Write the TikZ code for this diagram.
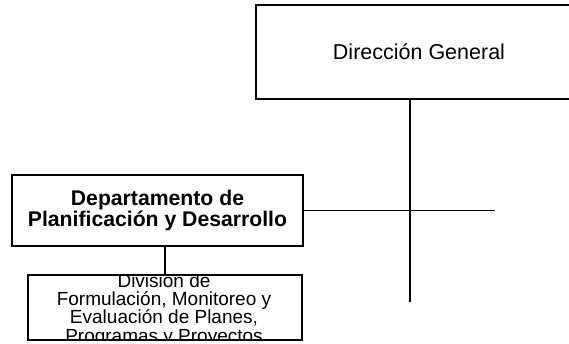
\documentclass[tikz,border=0pt]{standalone}
\usepackage{fontspec}
\setmainfont{Liberation Sans}
\begin{document}
\begin{tikzpicture}[x=1pt,y=-1pt,
  box/.style={draw, line width=1.8pt, rectangle, inner sep=0pt, align=center},
  conn/.style={line width=1.8pt},
  divline/.style={anchor=base, inner sep=0pt, font=\fontsize{19}{18}\selectfont}]
\useasboundingbox (0,0) rectangle (569,344);
\clip (0,0) rectangle (569,344);
\node[box, minimum width=326pt, minimum height=94pt, font=\fontsize{21.5}{24}\selectfont] (dg) at (419,52) {Dirección General};
\node[box, minimum width=291pt, minimum height=71pt, font=\bfseries\fontsize{21.2}{21.5}\selectfont] (dept) at (157.5,210.5) {Departamento de\\Planificación y Desarrollo};
\node[box, minimum width=274pt, minimum height=65pt] (div) at (165,307.5) {};
\begin{scope}
\clip (div.north west) rectangle (div.south east);
\node[divline] (d1) at (164,287) {División de};
\node[divline] (d2) at (164,305) {Formulación, Monitoreo y};
\node[divline] (d3) at (164,323) {Evaluación de Planes,};
\node[divline] (d4) at (164,342) {Programas y Proyectos};
\end{scope}
\coordinate (vend) at (410,302);
\coordinate (hend) at (495,209);
\draw[conn] (dg.south -| vend) -- (vend);
\draw[conn] (dept.east) -- (dept.east -| hend);
\draw[conn] (dept.south -| div.north) -- (div.north);
\end{tikzpicture}
\end{document}
